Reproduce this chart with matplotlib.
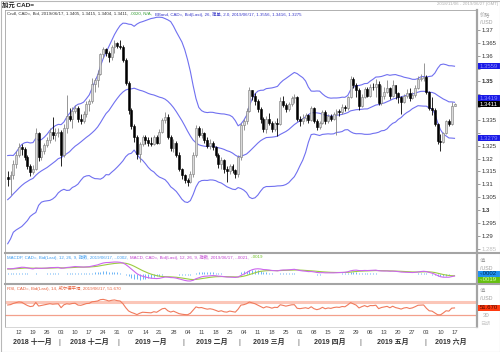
import numpy as np
import pandas as pd
import matplotlib
matplotlib.use("Agg")
import matplotlib.pyplot as plt
from matplotlib.patches import Rectangle
from matplotlib.lines import Line2D
import matplotlib.transforms as mtransforms

plt.rcParams['font.family'] = ['Liberation Sans', 'Noto Sans CJK SC']

# ---------------- data ----------------
# closes before the first drawn candle (Sep 24 - Nov 5 2018), only used to seed the indicators
warmup_close = [1.2960, 1.2985, 1.2990, 1.3030, 1.2915,
                1.2820, 1.2880, 1.2850, 1.2935, 1.2945,
                1.2970, 1.2975, 1.2990, 1.2975, 1.3030,
                1.2990, 1.2950, 1.3030, 1.3085, 1.3100,
                1.3090, 1.3085, 1.3070, 1.3050, 1.3110,
                1.3120, 1.3175, 1.3155, 1.3085, 1.3130,
                1.3150]

start_date = '2018-11-06'
end_date = '2019-06-17'

opens = [1.3130, 1.3122, 1.3135, 1.3180, 1.3215, 1.3245, 1.3238, 1.3205, 1.3172, 1.3148,
         1.3160, 1.3298, 1.3205, 1.3228, 1.3252, 1.3272, 1.3302, 1.3290, 1.3300, 1.3305,
         1.3212, 1.3318, 1.3365, 1.3355, 1.3385, 1.3395, 1.3352, 1.3345, 1.3375, 1.3412,
         1.3422, 1.3490, 1.3505, 1.3530, 1.3605, 1.3625, 1.3612, 1.3595, 1.3632, 1.3650,
         1.3638, 1.3632, 1.3585, 1.3495, 1.3390, 1.3328, 1.3282, 1.3218, 1.3255, 1.3282,
         1.3272, 1.3262, 1.3256, 1.3282, 1.3262, 1.3305, 1.3350, 1.3362, 1.3285, 1.3240,
         1.3262, 1.3215, 1.3160, 1.3135, 1.3118, 1.3110, 1.3140, 1.3215, 1.3320, 1.3292,
         1.3300, 1.3272, 1.3250, 1.3262, 1.3245, 1.3215, 1.3178, 1.3195, 1.3160, 1.3150,
         1.3172, 1.3155, 1.3140, 1.3205, 1.3330, 1.3345, 1.3385, 1.3465, 1.3445, 1.3425,
         1.3392, 1.3355, 1.3315, 1.3355, 1.3340, 1.3315, 1.3340, 1.3335, 1.3425, 1.3410,
         1.3392, 1.3412, 1.3435, 1.3440, 1.3355, 1.3345, 1.3358, 1.3368, 1.3350, 1.3395,
         1.3348, 1.3322, 1.3340, 1.3380, 1.3345, 1.3365, 1.3355, 1.3375, 1.3385, 1.3380,
         1.3400, 1.3395, 1.3440, 1.3510, 1.3488, 1.3465, 1.3405, 1.3440, 1.3470, 1.3445,
         1.3480, 1.3478, 1.3490, 1.3415, 1.3445, 1.3460, 1.3475, 1.3445, 1.3485, 1.3455,
         1.3440, 1.3420, 1.3445, 1.3455, 1.3435, 1.3448, 1.3475, 1.3510, 1.3515, 1.3518,
         1.3458, 1.3398, 1.3390, 1.3335, 1.3270, 1.3265, 1.3300, 1.3345, 1.3335, 1.3405]

highs = [1.3150, 1.3152, 1.3195, 1.3228, 1.3262, 1.3255, 1.3245, 1.3212, 1.3180, 1.3175,
         1.3318, 1.3302, 1.3240, 1.3262, 1.3285, 1.3318, 1.3362, 1.3318, 1.3320, 1.3312,
         1.3335, 1.3447, 1.3395, 1.3400, 1.3410, 1.3405, 1.3375, 1.3385, 1.3425, 1.3432,
         1.3512, 1.3515, 1.3545, 1.3612, 1.3632, 1.3630, 1.3620, 1.3640, 1.3662, 1.3655,
         1.3660, 1.3642, 1.3590, 1.3500, 1.3395, 1.3335, 1.3290, 1.3265, 1.3290, 1.3290,
         1.3285, 1.3282, 1.3292, 1.3290, 1.3315, 1.3358, 1.3380, 1.3372, 1.3290, 1.3275,
         1.3270, 1.3225, 1.3165, 1.3140, 1.3125, 1.3150, 1.3225, 1.3330, 1.3325, 1.3318,
         1.3305, 1.3285, 1.3275, 1.3270, 1.3250, 1.3220, 1.3205, 1.3200, 1.3170, 1.3180,
         1.3180, 1.3160, 1.3215, 1.3340, 1.3352, 1.3395, 1.3478, 1.3468, 1.3455, 1.3430,
         1.3400, 1.3362, 1.3365, 1.3378, 1.3345, 1.3348, 1.3358, 1.3440, 1.3445, 1.3418,
         1.3420, 1.3445, 1.3450, 1.3445, 1.3365, 1.3372, 1.3378, 1.3375, 1.3405, 1.3400,
         1.3352, 1.3348, 1.3390, 1.3388, 1.3375, 1.3372, 1.3382, 1.3392, 1.3392, 1.3412,
         1.3410, 1.3445, 1.3522, 1.3518, 1.3495, 1.3475, 1.3450, 1.3480, 1.3478, 1.3490,
         1.3495, 1.3510, 1.3500, 1.3488, 1.3480, 1.3505, 1.3478, 1.3505, 1.3488, 1.3460,
         1.3445, 1.3452, 1.3470, 1.3475, 1.3460, 1.3485, 1.3520, 1.3530, 1.3570, 1.3525,
         1.3462, 1.3440, 1.3395, 1.3340, 1.3295, 1.3305, 1.3350, 1.3352, 1.3420, 1.3415]

lows = [1.3095, 1.3060, 1.3120, 1.3165, 1.3205, 1.3215, 1.3195, 1.3160, 1.3132, 1.3140,
        1.3155, 1.3190, 1.3195, 1.3218, 1.3245, 1.3262, 1.3275, 1.3270, 1.3285, 1.3172,
        1.3205, 1.3300, 1.3345, 1.3320, 1.3378, 1.3342, 1.3335, 1.3340, 1.3360, 1.3385,
        1.3415, 1.3460, 1.3480, 1.3525, 1.3590, 1.3600, 1.3575, 1.3585, 1.3612, 1.3630,
        1.3625, 1.3575, 1.3485, 1.3375, 1.3315, 1.3265, 1.3200, 1.3185, 1.3250, 1.3258,
        1.3250, 1.3248, 1.3252, 1.3255, 1.3258, 1.3300, 1.3340, 1.3275, 1.3228, 1.3225,
        1.3205, 1.3150, 1.3120, 1.3105, 1.3095, 1.3105, 1.3130, 1.3205, 1.3282, 1.3280,
        1.3262, 1.3240, 1.3238, 1.3235, 1.3208, 1.3165, 1.3160, 1.3145, 1.3110, 1.3140,
        1.3145, 1.3125, 1.3128, 1.3195, 1.3310, 1.3335, 1.3380, 1.3428, 1.3410, 1.3380,
        1.3340, 1.3302, 1.3300, 1.3330, 1.3305, 1.3308, 1.3288, 1.3330, 1.3400, 1.3380,
        1.3385, 1.3405, 1.3415, 1.3345, 1.3325, 1.3335, 1.3345, 1.3340, 1.3345, 1.3340,
        1.3310, 1.3315, 1.3335, 1.3335, 1.3340, 1.3345, 1.3350, 1.3290, 1.3365, 1.3372,
        1.3385, 1.3390, 1.3435, 1.3475, 1.3440, 1.3390, 1.3400, 1.3435, 1.3438, 1.3440,
        1.3465, 1.3440, 1.3410, 1.3408, 1.3430, 1.3455, 1.3432, 1.3440, 1.3430, 1.3415,
        1.3372, 1.3415, 1.3435, 1.3425, 1.3430, 1.3440, 1.3470, 1.3500, 1.3500, 1.3450,
        1.3390, 1.3370, 1.3325, 1.3255, 1.3228, 1.3262, 1.3295, 1.3325, 1.3330, 1.3404]

closes = [1.3122, 1.3135, 1.3180, 1.3215, 1.3245, 1.3238, 1.3205, 1.3172, 1.3148, 1.3160,
          1.3298, 1.3205, 1.3228, 1.3252, 1.3272, 1.3302, 1.3290, 1.3300, 1.3305, 1.3212,
          1.3318, 1.3365, 1.3355, 1.3385, 1.3395, 1.3352, 1.3345, 1.3375, 1.3412, 1.3422,
          1.3490, 1.3505, 1.3530, 1.3605, 1.3625, 1.3612, 1.3595, 1.3632, 1.3650, 1.3638,
          1.3632, 1.3585, 1.3495, 1.3390, 1.3328, 1.3282, 1.3218, 1.3255, 1.3282, 1.3272,
          1.3262, 1.3256, 1.3282, 1.3262, 1.3305, 1.3350, 1.3362, 1.3285, 1.3240, 1.3262,
          1.3215, 1.3160, 1.3135, 1.3118, 1.3110, 1.3140, 1.3215, 1.3320, 1.3292, 1.3300,
          1.3272, 1.3250, 1.3262, 1.3245, 1.3215, 1.3178, 1.3195, 1.3160, 1.3150, 1.3172,
          1.3155, 1.3140, 1.3205, 1.3330, 1.3345, 1.3385, 1.3465, 1.3445, 1.3425, 1.3392,
          1.3355, 1.3315, 1.3355, 1.3340, 1.3315, 1.3340, 1.3335, 1.3425, 1.3410, 1.3392,
          1.3412, 1.3435, 1.3440, 1.3355, 1.3345, 1.3358, 1.3368, 1.3350, 1.3395, 1.3348,
          1.3322, 1.3340, 1.3380, 1.3345, 1.3365, 1.3355, 1.3375, 1.3385, 1.3380, 1.3400,
          1.3395, 1.3440, 1.3510, 1.3488, 1.3465, 1.3405, 1.3440, 1.3470, 1.3445, 1.3480,
          1.3478, 1.3490, 1.3415, 1.3445, 1.3460, 1.3475, 1.3445, 1.3485, 1.3455, 1.3440,
          1.3420, 1.3445, 1.3455, 1.3435, 1.3448, 1.3475, 1.3510, 1.3515, 1.3518, 1.3458,
          1.3398, 1.3390, 1.3335, 1.3270, 1.3265, 1.3300, 1.3345, 1.3335, 1.3405, 1.3411]

price_ticks = [1.285, 1.29, 1.295, 1.30, 1.305, 1.31, 1.315, 1.32, 1.325, 1.33,
               1.335, 1.34, 1.345, 1.35, 1.355, 1.36, 1.365, 1.37]
month_names = ['2018 十一月', '2018 十二月', '2019 一月', '2019 二月',
               '2019 三月', '2019 四月', '2019 五月', '2019 六月']

main_legend = [("Cndl, CAD=, Bid, 2019/06/17, 1.3405, 1.3415, 1.3404, 1.3411, ", '#333333'),
               (".0020, N/A, ", '#2f9a2f'),
               ("BBand, CAD=, Bid(Last), 26, 简单, 2.0, 2019/06/17, 1.3556, 1.3416, 1.3275", '#3535c8')]
macd_legend = [("MACDP, CAD=, Bid(Last), 12, 26, 9, 指数, 2019/06/17, -.0002, ", '#3c9cf0'),
               ("MACD, CAD=, Bid(Last), 12, 26, 9, 指数, 2019/06/17, -.0021, ", '#c040d0'),
               ("-.0019", '#6cc020')]
rsi_legend = [("RSI, CAD=, Bid(Last), 14, 威尔德平滑, 2019/06/17, 51.670", '#e8603c')]

# ---------------- computations ----------------
dates = pd.bdate_range(start_date, end_date)
O = np.array(opens); H = np.array(highs); L = np.array(lows); C = np.array(closes)
n = len(C)
x = np.arange(n)

full = pd.Series(warmup_close + closes)
k = len(warmup_close)
mid = full.rolling(26).mean()
sd = full.rolling(26).std(ddof=0)
bb_mid = mid.values[k:]
bb_up = (mid + 2 * sd).values[k:]
bb_lo = (mid - 2 * sd).values[k:]

ema12 = full.ewm(span=12, adjust=False).mean()
ema26 = full.ewm(span=26, adjust=False).mean()
macd_full = ema12 - ema26
sig_full = macd_full.ewm(span=9, adjust=False).mean()
macd = macd_full.values[k:]
sig = sig_full.values[k:]
hist = macd - sig

delta = full.diff()
gain = delta.clip(lower=0)
loss = (-delta).clip(lower=0)
ag = gain.ewm(alpha=1 / 14, adjust=False).mean()
al = loss.ewm(alpha=1 / 14, adjust=False).mean()
rsi = (100 - 100 / (1 + ag / al)).values[k:]

# ---------------- figure ----------------
W, Hh = 500, 352
fig = plt.figure(figsize=(W / 100, Hh / 100), dpi=100)
fig.patch.set_facecolor('white')

def fx(px):
    return px / W

def fy(py):
    return 1 - py / Hh

left_px, right_px = 5, 477
axw = fx(right_px) - fx(left_px)
ax = fig.add_axes([fx(left_px), fy(252), axw, fy(10) - fy(252)])
axm = fig.add_axes([fx(left_px), fy(283), axw, fy(253) - fy(283)])
axr = fig.add_axes([fx(left_px), fy(327), axw, fy(284) - fy(327)])

XL = (-0.96, 167.0)
grey = '#a4a4a4'
for a in (ax, axm, axr):
    a.set_xlim(*XL)
    a.set_facecolor('white')
    a.yaxis.tick_right()
    for s_ in ('top', 'bottom', 'left'):
        a.spines[s_].set_color(grey)
        a.spines[s_].set_linewidth(0.6)
    a.spines['right'].set_color(grey)
    a.spines['right'].set_linewidth(1.6)
    a.tick_params(axis='x', length=0, labelbottom=False)

# ---- main panel ----
up = C >= O
dn = ~up
ax.vlines(x[up], L[up], H[up], color='#858585', lw=0.6, zorder=2)
ax.vlines(x[dn], L[dn], H[dn], color='black', lw=0.6, zorder=2)
bot = np.minimum(O, C)
hgt = np.maximum(np.abs(C - O), 0.00012)
ax.bar(x[up], hgt[up], 0.7, bot[up], color='#dadada', edgecolor='#7a7a7a', linewidth=0.4, zorder=3)
ax.bar(x[dn], hgt[dn], 0.7, bot[dn], color='black', edgecolor='black', linewidth=0.4, zorder=3)
bbc = '#7070f0'
ax.plot(x, bb_up, color=bbc, lw=0.8, zorder=1)
ax.plot(x, bb_mid, color=bbc, lw=0.8, zorder=1)
ax.plot(x, bb_lo, color=bbc, lw=0.8, zorder=1)
ax.set_ylim(1.28367, 1.37778)
ax.set_yticks(price_ticks)
ax.set_yticklabels(['%g' % t for t in price_ticks])
ax.tick_params(axis='y', length=2, width=0.5, color='#777777', labelsize=4.3,
               labelcolor='#333333', pad=1.5)
for t, lab in zip(price_ticks, ax.get_yticklabels()):
    if abs(round(t * 100) - t * 100) < 1e-6 and round(t * 100) % 5 == 0:
        lab.set_fontweight('bold')
    if t < 1.2875:
        lab.set_color('#c0c0c0')

# ---- MACD panel ----
axm.vlines(x, 0, hist, color='#52a8f5', lw=0.6)
axm.plot(x, sig, color='#9ccc40', lw=0.8)
axm.plot(x, macd, color='#cc66ee', lw=0.8)
hi = max(macd.max(), sig.max())
lo = min(macd.min(), sig.min(), hist.min())
s = (hi - lo) / 19.0
axm.set_ylim(lo - 2 * s, hi + 9 * s)
axm.set_yticks([])
axm.tick_params(axis='y', length=0)

# ---- RSI panel ----
axr.axhline(70, color='#fbc6b8', lw=2.2)
axr.axhline(30, color='#f3a08c', lw=0.9)
axr.plot(x, rsi, color='#f07a5c', lw=0.8)
axr.set_ylim(-7, 125)
axr.set_yticks([30])
axr.set_yticklabels(['30'])
axr.tick_params(axis='y', length=0, labelsize=4.3, labelcolor='#aaaaaa', pad=4)
axr.spines['bottom'].set_color('#d0d0d0')

# x tick labels (Mondays) and month labels
mon = np.where(dates.weekday == 0)[0]
axr.set_xticks(mon)
axr.set_xticklabels(['%02d' % dates[i].day for i in mon])
axr.tick_params(axis='x', length=0, labelbottom=True, labelsize=4.2, labelcolor='#444444', pad=2.5)

tr_month = mtransforms.blended_transform_factory(axr.transData, fig.transFigure)
months = dates.to_period('M')
bounds = [i for i in range(1, n) if months[i] != months[i - 1]]
edges = [XL[0]] + [b - 0.5 for b in bounds] + [XL[1]]
for j, name in enumerate(month_names):
    cx = (edges[j] + edges[j + 1]) / 2
    fig.text(cx, fy(342.5), name, transform=tr_month, ha='center', va='center',
             fontsize=5.0, fontweight='bold', color='#333333')
for b in edges[1:-1]:
    fig.text(b, fy(342.5), '|', transform=tr_month, ha='center', va='center',
             fontsize=5.0, color='#555555')

# panel dividers across full width
for yy in (252.5, 283.5):
    fig.add_artist(Line2D([fx(left_px), 1.0], [fy(yy), fy(yy)], color=grey, lw=1.5))

# ---- value tags on the right ----
fig.canvas.draw()

def ypix(axis, value):
    return axis.transData.transform((0, value))[1]

def tag(ypx, text, fc, tc):
    fig.add_artist(Rectangle((fx(478), (ypx - 2.9) / Hh), fx(22), 5.8 / Hh,
                             transform=fig.transFigure, fc=fc, ec='none'))
    fig.text(fx(479.5), ypx / Hh, text, fontsize=4.3, color=tc, ha='left', va='center')
    return ypx

y_up = ypix(ax, bb_up[-1])
y_lo = ypix(ax, bb_lo[-1])
y_last = ypix(ax, C[-1])
y_mid = ypix(ax, bb_mid[-1])
if abs(y_mid - y_last) < 6.0:
    y_mid = y_last + 6.0   # stack above the last-price tag (display y grows upward)
tag_ys = [y_up, y_lo, y_mid, y_last]
tag(y_up, '%.4f' % bb_up[-1], '#1a1ae6', '#8a8aff')
tag(y_lo, '%.4f' % bb_lo[-1], '#1a1ae6', '#8a8aff')
tag(y_mid, '%.4f' % bb_mid[-1], '#1a1ae6', '#8a8aff')
tag(y_last, '%.4f' % C[-1], '#000000', '#ffffff')

# tick labels hidden behind the tags
for t, lab in zip(price_ticks, ax.get_yticklabels()):
    yt = ypix(ax, t)
    if any(abs(yt - yy) < 6.0 for yy in tag_ys):
        lab.set_visible(False)

yb = tag(ypix(axm, hist[-1]), '-.0002', '#2090f0', '#002a55')
yg = min(ypix(axm, sig[-1]), yb - 6.0)
tag(yg, '-.0019', '#66c010', '#d8ffb0')
tag(ypix(axr, rsi[-1]), '51.670', '#ff3a10', '#4a0a00')

# axis unit labels
for ytxt, txt in [(15, '价格'), (22.5, '/USD'), (261, '值'), (268, '/USD'),
                  (291, '值'), (298, '/USD')]:
    fig.text(fx(480), fy(ytxt), txt, fontsize=3.8, color='#a0a0a0', ha='left', va='center')
fig.text(fx(480), fy(323), '日期', fontsize=3.6, color='#d0d0d0', ha='left', va='center')

# ---- header texts ----
fig.text(fx(2), fy(4.5), '加元 CAD=', fontsize=4.6, fontweight='bold', color='#222222',
         ha='left', va='center')
fig.text(fx(498), fy(4.5), '2018/11/06 - 2019/06/27 (GMT)', fontsize=3.2, color='#b0b0b0',
         ha='right', va='center')

renderer = fig.canvas.get_renderer()

def seg_width(segs, size):
    tot = 0
    for sgm, col in segs:
        t = fig.text(0, 0, sgm, fontsize=size)
        tot += t.get_window_extent(renderer=renderer).width
        t.remove()
    return tot

def seg_text(x0, ypx, segs, size):
    xx = x0
    for sgm, col in segs:
        t = fig.text(fx(xx), fy(ypx), sgm, fontsize=size, color=col, ha='left', va='center')
        xx += t.get_window_extent(renderer=renderer).width + 1.0

w4 = seg_width(main_legend, 4.0)
lsize = 4.0 * (296 - 7) / w4
seg_text(7, 14, main_legend, lsize)
seg_text(7, 257, macd_legend, lsize)
seg_text(7, 288, rsi_legend, lsize)

# outer border
fig.add_artist(Rectangle((0.001, 0.001), 0.998, 0.997, transform=fig.transFigure,
                         fill=False, ec='#b8b8b8', lw=0.8))

fig.savefig('out.png', dpi=100, facecolor='white')
